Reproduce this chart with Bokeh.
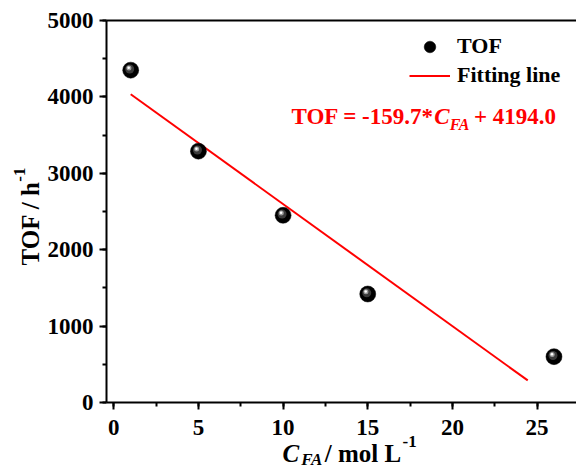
import math
from bokeh.plotting import figure
from bokeh.models import Range1d, Label, Legend, LegendItem, LinearAxis, SingleIntervalTicker
from bokeh.embed import file_html
from bokeh.resources import INLINE

# ---- data ----
cfa = [1, 5, 10, 15, 26]
tof = [4350, 3290, 2450, 1420, 600]
slope = -159.7
intercept = 4194.0
fit_x = [1, 24.45]
fit_y = [slope * x + intercept for x in fit_x]
x_start, x_end = -0.43, 27.33
y_start, y_end = 0, 5000

FONT = "Liberation Serif"
RED = "#ff0000"

# page / axes box placement (pixels)
W, H = 576, 472
AL, AR, AT, AB = 106, 576, 20, 402
kx = (AR - AL) / (x_end - x_start)
ky = (AB - AT) / (y_end - y_start)
X0 = x_start - AL / kx
X1 = x_end + (W - AR) / kx
Y0 = y_start - (H - AB) / ky
Y1 = y_end + AT / ky

p = figure(width=W, height=H, x_range=Range1d(X0, X1), y_range=Range1d(Y0, Y1),
           output_backend="svg", toolbar_location=None,
           min_border=0, min_border_left=0, min_border_right=0, min_border_top=0, min_border_bottom=0)
p.xgrid.visible = False
p.ygrid.visible = False
p.outline_line_color = None
p.background_fill_color = "white"
p.border_fill_color = "white"

p.xaxis.ticker = SingleIntervalTicker(interval=5, num_minor_ticks=2)
p.yaxis.ticker = SingleIntervalTicker(interval=1000, num_minor_ticks=2)
p.xaxis.fixed_location = y_start
p.yaxis.fixed_location = x_start
p.xaxis.bounds = (x_start, x_end)
p.yaxis.bounds = (y_start, y_end)
for ax in (p.xaxis, p.yaxis):
    ax.axis_line_width = 2
    ax.axis_line_color = "black"
    ax.major_tick_line_width = 2
    ax.major_tick_line_color = "black"
    ax.major_tick_out = 7
    ax.major_tick_in = 0
    ax.minor_tick_line_width = 2
    ax.minor_tick_line_color = "black"
    ax.minor_tick_out = 4
    ax.minor_tick_in = 0
    ax.major_label_text_font = FONT
    ax.major_label_text_font_style = "bold"
    ax.major_label_text_font_size = "23px"
    ax.major_label_text_color = "black"
p.xaxis.major_label_standoff = 10
p.yaxis.major_label_standoff = 6

top_ax = LinearAxis(fixed_location=y_end, bounds=(x_start, x_end), axis_line_width=2, axis_line_color="black",
                    major_tick_line_color=None, minor_tick_line_color=None,
                    major_label_text_font_size="0px", major_label_text_color=None)
p.add_layout(top_ax, "above")

# fitting line
fit = p.line(fit_x, fit_y, line_color=RED, line_width=2)

# spheres: layered circles
dx = 1.0 / kx
dy = 1.0 / ky
sph = p.scatter(cfa, tof, size=16, marker="circle", fill_color="black", line_color="black", line_width=0.5)
p.scatter([x - 1.0 * dx for x in cfa], [y + 1.2 * dy for y in tof], size=9, fill_color="#3a3a3a", line_color=None)
p.scatter([x - 1.8 * dx for x in cfa], [y + 2.2 * dy for y in tof], size=5, fill_color="#9a9a9a", line_color=None)
p.scatter([x - 2.0 * dx for x in cfa], [y + 2.5 * dy for y in tof], size=2.5, fill_color="white", line_color=None)

legend = Legend(items=[LegendItem(label="TOF", renderers=[sph]),
                       LegendItem(label="Fitting line", renderers=[fit])],
                location=(409, H - 89.5), margin=0, padding=0, spacing=0,
                glyph_width=41, glyph_height=29, label_height=29, label_standoff=7,
                label_text_font=FONT, label_text_font_style="bold", label_text_font_size="22px",
                label_text_color="black",
                border_line_color=None, background_fill_alpha=0)
p.add_layout(legend)

# text metrics (Times bold / bold italic, per 1000 em)
TB = {' ': 250, '*': 500, '+': 570, '-': 333, '.': 250, '/': 278, '=': 570, 'A': 722, 'C': 722,
      'F': 611, 'L': 667, 'O': 778, 'T': 667, 'h': 556, 'l': 278, 'm': 833, 'o': 500}
TBI = {'C': 667, 'F': 667, 'A': 667}

SHIFT = 8  # rendering offset correction (pixels)


def tw(s, size, italic=False):
    tab = TBI if italic else TB
    return sum((tab.get(c, 500)) for c in s) * size / 1000.0


def lab(text, ix, iy, size, italic=False, color="black", angle=0.0):
    p.add_layout(Label(x=ix, y=H - iy, x_units="screen", y_units="screen", text=text,
                       text_font=FONT, text_font_style="bold italic" if italic else "bold",
                       text_font_size=f"{size}px", text_color=color, text_align="left",
                       text_baseline="alphabetic", angle=angle))


# equation
ex, ey = 291, 124 - SHIFT
parts = [("TOF = -159.7*", 23, False, 0, 0), ("C", 23, True, 0, 0), ("FA", 16, True, 8, 3),
         (" + 4194.0", 23, False, 0, 0)]
cx = ex
for t, s, it, off, gap in parts:
    lab(t, cx, ey + off, s, it, RED)
    cx += tw(t, s, it) + gap

# x axis label
xx, xy = 282, 461 - SHIFT
parts = [("C", 25, True, 0, 2), ("FA", 17, True, 6, 1), (" / mol L", 25, False, 0, -5), ("-1", 17, False, -12, 0)]
cx = xx
for t, s, it, off, gap in parts:
    lab(t, cx, xy + off, s, it)
    cx += tw(t, s, it) + gap

# y axis label (rotated)
yx, yy = 30, 265
lab("TOF / h", yx, yy, 25, False, "black", math.pi / 2)
lab("-1", yx - 11, yy - tw("TOF / h", 25) + 1, 17, False, "black", math.pi / 2)

open("out.html", "w").write(file_html(p, INLINE))
